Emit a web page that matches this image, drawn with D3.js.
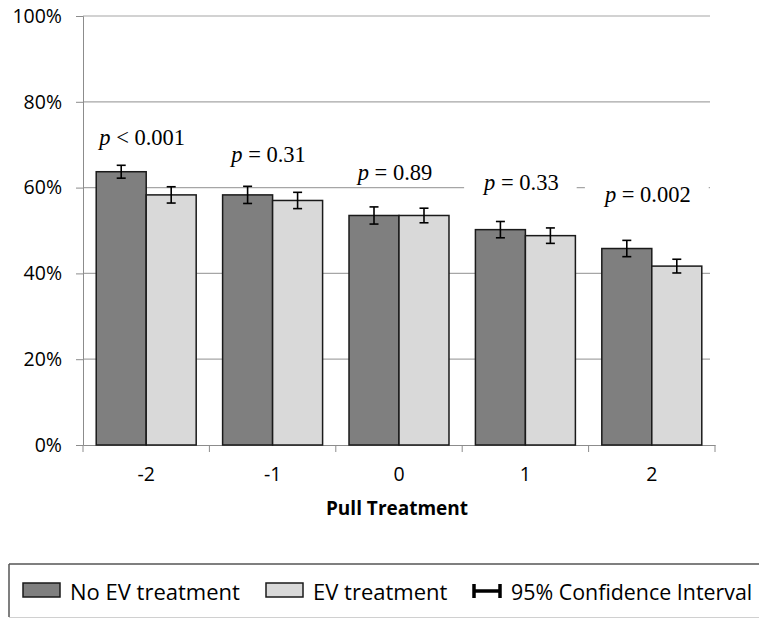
<!DOCTYPE html>
<html>
<head>
<meta charset="utf-8">
<script src="https://cdn.jsdelivr.net/npm/d3@7"></script>
<style>
  body { margin: 0; background: #fff; }
  svg { display: block; }
</style>
</head>
<body>
<svg id="chart"></svg>
<script>
// values
const categories = ["-2", "-1", "0", "1", "2"];
const seriesNames = ["No EV treatment", "EV treatment"];
const noEV = [63.7, 58.3, 53.5, 50.2, 45.8];
const ev = [58.3, 57.0, 53.5, 48.8, 41.7];
const noEVci = [1.5, 2.0, 2.0, 1.9, 1.9];
const evCi = [1.9, 1.9, 1.7, 1.8, 1.6];
const pText = ["< 0.001", "= 0.31", "= 0.89", "= 0.33", "= 0.002"];
const pLevel = [69.9, 66.0, 61.8, 59.4, 56.6];
const yTicks = [0, 20, 40, 60, 80, 100];

const width = 759;
const height = 619;
const plotLeft = 83, plotRight = 715, plotTop = 16, plotBottom = 445;

const svg = d3.select("#chart").attr("width", width).attr("height", height);

const y = d3.scaleLinear().domain([0, 100]).range([plotBottom, plotTop]);
const x0 = d3.scaleBand().domain(categories).range([plotLeft, plotRight]).paddingInner(0.209).paddingOuter(0.1045);
const x1 = d3.scaleBand().domain(seriesNames).range([0, x0.bandwidth()]);
const xEdge = d3.scaleBand().domain(categories).range([plotLeft, plotRight]);
const color = d3.scaleOrdinal().domain(seriesNames).range(["#7f7f7f", "#d9d9d9"]);

const rows = categories.map((c, i) => ({
  cat: c,
  bars: [
    { name: seriesNames[0], v: noEV[i], ci: noEVci[i] },
    { name: seriesNames[1], v: ev[i], ci: evCi[i] }
  ]
}));

// gridlines
svg.append("g")
  .selectAll("line")
  .data(yTicks.filter(d => d > 0))
  .join("line")
  .attr("x1", plotLeft).attr("x2", plotRight - 5)
  .attr("y1", d => y(d)).attr("y2", d => y(d))
  .attr("stroke", "#a6a6a6").attr("stroke-width", 1.2);

// p-value labels with white boxes
const pg = svg.append("g").selectAll("g").data(categories).join("g");
pg.each(function (c, i) {
  const g = d3.select(this);
  const cx = xEdge(c) + xEdge.bandwidth() / 2 - 4;
  const by = y(pLevel[i]);
  const t = g.append("text")
    .attr("x", cx).attr("y", by)
    .attr("text-anchor", "middle")
    .style("font-family", "'Liberation Serif', 'Times New Roman', serif")
    .style("font-size", "22.5px")
    .style("white-space", "pre")
    .attr("fill", "#000");
  t.append("tspan").style("font-style", "italic").text("p");
  t.append("tspan").text(" " + pText[i]);
  const bb = t.node().getBBox();
  g.insert("rect", "text")
    .attr("x", bb.x - 18).attr("width", bb.width + 36)
    .attr("y", by - 21).attr("height", 27)
    .attr("fill", "#fff");
});

// axes
const yAxis = svg.append("g")
  .attr("transform", "translate(" + plotLeft + ",0)")
  .call(d3.axisLeft(y).tickValues(yTicks).tickFormat(d => d + "%").tickSize(7).tickPadding(14));
yAxis.select(".domain").attr("stroke", "#8c8c8c");
yAxis.selectAll(".tick line").attr("stroke", "#8c8c8c");
yAxis.selectAll("text")
  .style("font-family", "'Open Sans', sans-serif")
  .style("font-size", "19.5px")
  .attr("fill", "#000");

const xAxis = svg.append("g")
  .attr("transform", "translate(0," + plotBottom + ")")
  .call(d3.axisBottom(xEdge).tickSize(0).tickPadding(22));
xAxis.select(".domain").attr("stroke", "#8c8c8c");
xAxis.selectAll("text")
  .style("font-family", "'Open Sans', sans-serif")
  .style("font-size", "19.5px")
  .attr("fill", "#000");
xAxis.append("g")
  .selectAll("line")
  .data(categories.concat(["end"]))
  .join("line")
  .attr("x1", (d, i) => i < categories.length ? xEdge(d) : plotRight)
  .attr("x2", (d, i) => i < categories.length ? xEdge(d) : plotRight)
  .attr("y1", 0).attr("y2", 7)
  .attr("stroke", "#8c8c8c");

svg.append("text")
  .attr("x", (plotLeft + plotRight) / 2 - 2).attr("y", 515)
  .attr("text-anchor", "middle")
  .style("font-family", "'Open Sans', sans-serif")
  .style("font-size", "19px")
  .style("font-weight", "bold")
  .text("Pull Treatment");

// bars
const groups = svg.append("g")
  .selectAll("g")
  .data(rows)
  .join("g")
  .attr("transform", d => "translate(" + x0(d.cat) + ",0)");

groups.selectAll("rect")
  .data(d => d.bars)
  .join("rect")
  .attr("x", d => x1(d.name))
  .attr("width", x1.bandwidth())
  .attr("y", d => y(d.v))
  .attr("height", d => plotBottom - y(d.v))
  .attr("fill", d => color(d.name))
  .attr("stroke", "#1a1a1a")
  .attr("stroke-width", 1.5);

// error bars
const err = groups.selectAll("g.err")
  .data(d => d.bars)
  .join("g")
  .attr("class", "err")
  .attr("transform", d => "translate(" + (x1(d.name) + x1.bandwidth() / 2) + ",0)")
  .attr("stroke", "#000").attr("stroke-width", 1.6);
err.append("line").attr("y1", d => y(d.v + d.ci)).attr("y2", d => y(d.v - d.ci));
err.append("line").attr("x1", -4.5).attr("x2", 4.5).attr("y1", d => y(d.v + d.ci)).attr("y2", d => y(d.v + d.ci));
err.append("line").attr("x1", -4.5).attr("x2", 4.5).attr("y1", d => y(d.v - d.ci)).attr("y2", d => y(d.v - d.ci));

// legend
const lg = svg.append("g");
lg.append("line").attr("x1", 9).attr("x2", width).attr("y1", 564).attr("y2", 564).attr("stroke", "#555").attr("stroke-width", 1.5);
lg.append("line").attr("x1", 9).attr("x2", 9).attr("y1", 564).attr("y2", 617).attr("stroke", "#555").attr("stroke-width", 1.5);
lg.append("line").attr("x1", 9).attr("x2", width).attr("y1", 617.5).attr("y2", 617.5).attr("stroke", "#d0d0d0").attr("stroke-width", 1);

const legendItems = [
  { name: seriesNames[0], sx: 23, tx: 70 },
  { name: seriesNames[1], sx: 266, tx: 313 }
];
legendItems.forEach(it => {
  lg.append("rect").attr("x", it.sx).attr("y", 583).attr("width", 37).attr("height", 14)
    .attr("fill", color(it.name)).attr("stroke", "#1a1a1a").attr("stroke-width", 1.5);
  lg.append("text").attr("x", it.tx).attr("y", 600)
    .style("font-family", "'Open Sans', sans-serif").style("font-size", "22px")
    .text(it.name);
});
const ci = lg.append("g").attr("stroke", "#000").attr("stroke-width", 3.5);
ci.append("line").attr("x1", 474).attr("x2", 500).attr("y1", 591).attr("y2", 591);
ci.append("line").attr("x1", 474).attr("x2", 474).attr("y1", 584).attr("y2", 598);
ci.append("line").attr("x1", 500).attr("x2", 500).attr("y1", 584).attr("y2", 598);
lg.append("text").attr("x", 511).attr("y", 600)
  .style("font-family", "'Open Sans', sans-serif").style("font-size", "21.4px")
  .text("95% Confidence Interval");
</script>
</body>
</html>
